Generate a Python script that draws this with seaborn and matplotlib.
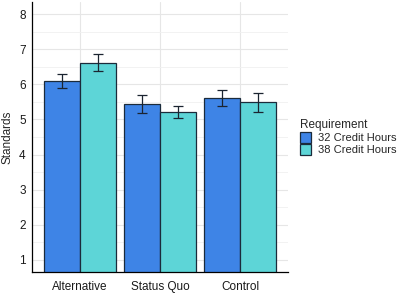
import matplotlib
matplotlib.use("Agg")
import matplotlib.pyplot as plt
import seaborn as sns
import pandas as pd
import numpy as np

conditions = ["Alternative", "Status Quo", "Control"]
requirements = ["32 Credit Hours", "38 Credit Hours"]
means_32 = [6.09, 5.44, 5.60]
means_38 = [6.62, 5.20, 5.49]
err_32 = [0.20, 0.26, 0.23]
err_38 = [0.24, 0.17, 0.27]

df = pd.DataFrame({
    "Condition": conditions * 2,
    "Requirement": [requirements[0]] * 3 + [requirements[1]] * 3,
    "Standards": means_32 + means_38,
    "err": err_32 + err_38,
})

sns.set_style("white")
plt.rcParams["font.family"] = ["Liberation Sans", "DejaVu Sans"]

fig = plt.figure(figsize=(4.0, 2.93), dpi=100)
ax = fig.add_axes([0.08, 0.072, 0.64, 0.921])

palette = {requirements[0]: "#3E84E6", requirements[1]: "#5DD5D7"}
sns.barplot(data=df, x="Condition", y="Standards", hue="Requirement",
            order=conditions, hue_order=requirements, palette=palette,
            errorbar=None, width=0.9, edgecolor="#1B2B3B", linewidth=0.9,
            saturation=1, ax=ax, zorder=2)

# error bars at bar centres
for bars, req in zip(ax.containers, requirements):
    sub = df[df["Requirement"] == req].set_index("Condition").loc[conditions]
    xs = [b.get_x() + b.get_width() / 2 for b in bars]
    ax.errorbar(xs, sub["Standards"], yerr=sub["err"], fmt="none",
                ecolor="#1B2430", elinewidth=0.9, capsize=3.5, capthick=0.9, zorder=3)

ax.set_xlim(-0.6, 2.6)
ax.set_ylim(0.65, 8.35)
ax.set_yticks(range(1, 9))
ax.set_yticks(np.arange(1.5, 8.5, 1), minor=True)
ax.grid(True, which="major", axis="both", color="#E6E6E6", linewidth=0.8, zorder=0)
ax.grid(True, which="minor", axis="y", color="#F0F0F0", linewidth=0.6, zorder=0)
ax.set_axisbelow(True)
ax.tick_params(axis="both", which="major", length=2.5, width=0.6, color="#333333",
               labelsize=8.5, labelcolor="#1a1a1a", pad=2, direction="out")
ax.tick_params(axis="x", pad=4)
ax.tick_params(axis="y", which="minor", length=0)
for s in ["top", "right"]:
    ax.spines[s].set_visible(False)
for s in ["left", "bottom"]:
    ax.spines[s].set_color("black")
    ax.spines[s].set_linewidth(0.9)
ax.set_xlabel("")
ax.set_ylabel("Standards", fontsize=8.5, labelpad=4)

leg = ax.legend(title="Requirement", loc="center left", bbox_to_anchor=(1.02, 0.5),
                frameon=False, fontsize=8, title_fontsize=8.5,
                handlelength=1.0, handleheight=1.1, handletextpad=0.6,
                labelspacing=0.1, borderaxespad=0.2)
leg._legend_box.align = "left"

fig.savefig("out.png", dpi=100)
